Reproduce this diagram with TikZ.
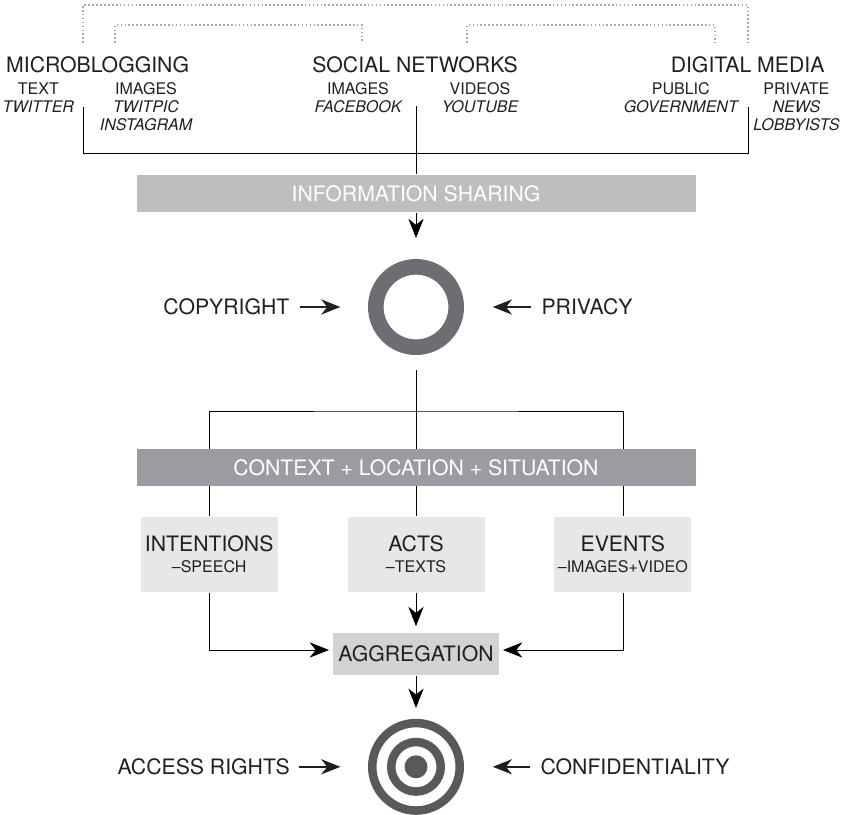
\documentclass[tikz,border=0pt]{standalone}
\usepackage{fontspec}
\setmainfont{TeX Gyre Heros}
\usetikzlibrary{arrows.meta, positioning, backgrounds}
\definecolor{inkblack}{RGB}{35,31,32}
\definecolor{sharegray}{RGB}{188,190,192}
\definecolor{contextgray}{RGB}{155,156,159}
\definecolor{boxgray}{RGB}{230,231,232}
\definecolor{agggray}{RGB}{209,211,212}
\definecolor{ringgray}{RGB}{109,110,113}
\definecolor{targetgray}{RGB}{88,89,91}
\definecolor{dotgray}{RGB}{167,169,172}
\newcommand{\bigfont}{\fontsize{15.1pt}{15pt}\selectfont}
\newcommand{\smallfont}{\fontsize{11.4pt}{12.8pt}\selectfont}

\begin{document}
\begin{tikzpicture}[
    every node/.style={text=inkblack},
    headtext/.style={font=\bigfont, anchor=base, inner sep=0pt},
    sub/.style={font=\smallfont, align=center, anchor=base, inner sep=0pt},
    sidetext/.style={font=\bigfont, inner sep=0pt},
    bar/.style={font=\bigfont, text=white, minimum width=13.975cm, minimum height=0.925cm, inner sep=0pt},
    box/.style={fill=boxgray, font=\bigfont, align=center, minimum width=3.425cm, minimum height=1.875cm, inner sep=0pt},
    arr/.style={-{Stealth[length=4.8mm, width=3.8mm, inset=1.5mm]}},
    dotline/.style={dotgray, line width=1.2pt, dash pattern=on 1.2pt off 1.6pt},
    line width=1.3pt, inkblack
]
    \useasboundingbox (0,0) rectangle (21.15,-20.375);

    % Sources (sub labels sit on the baseline of their last line)
    \node[headtext] (micro) at (2.44,-1.8) {MICROBLOGGING};
    \node[headtext] (social) at (10.375,-1.8) {SOCIAL NETWORKS};
    \node[headtext] (digital) at (18.69,-1.8) {DIGITAL MEDIA};

    \node[sub] (mbtext) at (0.96,-2.8) {TEXT\\{\itshape TWITTER}};
    \node[sub] (mbimg) at (3.65,-3.25) {IMAGES\\{\itshape TWITPIC}\\{\itshape INSTAGRAM}};
    \node[sub] (snimg) at (8.95,-2.8) {IMAGES\\{\itshape FACEBOOK}};
    \node[sub] (snvid) at (12.0,-2.8) {VIDEOS\\{\itshape YOUTUBE}};
    \node[sub] (dmpub) at (17.02,-2.8) {PUBLIC\\{\itshape GOVERNMENT}};
    \node[sub] (dmpriv) at (19.91,-3.25) {PRIVATE\\{\itshape NEWS}\\{\itshape LOBBYISTS}};

    % Bars and boxes
    \node[bar, fill=sharegray] (share) at (10.4,-4.84) {INFORMATION SHARING};
    \node[bar, fill=contextgray] (context) at (10.4,-11.69) {CONTEXT + LOCATION + SITUATION};

    \node[box] (intent) at (5.23,-13.86) {INTENTIONS\\{\smallfont --SPEECH}};
    \node[box] (acts) at (10.4,-13.86) {ACTS\\{\smallfont --TEXTS}};
    \node[box] (events) at (15.57,-13.86) {EVENTS\\{\smallfont --IMAGES+VIDEO}};

    \node[box, fill=agggray, minimum width=4.15cm, minimum height=1.05cm] (aggr) at (10.4,-16.35) {AGGREGATION};

    % Ring and target
    \node[circle, draw=ringgray, line width=0.39cm, minimum size=2.01cm, inner sep=0pt] (ring) at (10.4,-7.675) {};
    \node[circle, draw=targetgray, line width=0.2125cm, minimum size=2.1875cm, inner sep=0pt] (target) at (10.4,-19.17) {};
    \draw[targetgray, line width=0.2125cm] (target) circle (0.619cm);
    \fill[targetgray] (target) circle (0.2875cm);

    \node[sidetext] (copyright) at (5.66,-7.675) {COPYRIGHT};
    \node[sidetext] (privacy) at (14.675,-7.675) {PRIVACY};
    \node[sidetext] (access) at (5.09,-19.17) {ACCESS RIGHTS};
    \node[sidetext] (confid) at (15.875,-19.17) {CONFIDENTIALITY};

    % Side arrows
    \draw[arr, shorten <=0.25cm, shorten >=0.69cm] (copyright) -- (ring);
    \draw[arr, shorten <=0.25cm, shorten >=0.72cm] (privacy) -- (ring);
    \draw[arr, shorten <=0.2cm, shorten >=0.69cm] (access) -- (target);
    \draw[arr, shorten <=0.25cm, shorten >=0.72cm] (confid) -- (target);

    \coordinate (mbtop) at (2.075,-1.075);
    \coordinate (mbin) at (2.875,-1.075);
    \coordinate (snin) at (9.05,-1.075);
    \coordinate (snout) at (11.675,-1.075);
    \coordinate (dmin) at (17.875,-1.075);
    \coordinate (dmtop) at (18.7,-1.075);
    \coordinate (mbfoot) at (2.075,-2.675);
    \coordinate (snfoot) at (10.4,-2.65);
    \coordinate (dmfoot) at (18.7,-2.675);
    \coordinate (split) at (10.4,-10.275);

    \begin{scope}[on background layer]
        % Dotted links between sources
        \draw[dotline] (mbtop) -- ++(0,0.95) -| (dmtop);
        \draw[dotline] (mbin) -- ++(0,0.45) -| (snin);
        \draw[dotline] (snout) -- ++(0,0.45) -| (dmin);

        % Flow
        \draw (mbfoot) -- ++(0,-1.15) -| (dmfoot);
        \draw (snfoot) -- (share);
        \draw[arr, shorten >=0.525cm] (share) -- (ring);
        \draw[shorten <=0.375cm] (ring) -- (acts);
        \draw (intent) |- (split) -| (events);
        \draw[arr, shorten >=0.08cm] (intent) |- ([yshift=0.1cm]aggr.west);
        \draw[arr, shorten >=0.08cm] (events) |- ([yshift=0.1cm]aggr.east);
        \draw[arr, shorten >=0.15cm] (acts) -- (aggr);
        \draw[arr, shorten >=0.275cm] (aggr) -- (target);
    \end{scope}
\end{tikzpicture}
\end{document}
